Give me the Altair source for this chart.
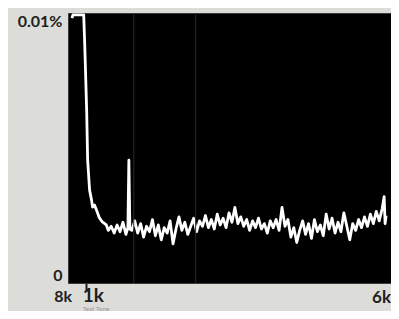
import altair as alt
import pandas as pd

title_text = "Distortion"

# sweep position (0..329 across the display) and distortion (units of 0.001 %)
sweep = [4, 5, 16, 17, 19, 20, 22, 24, 25, 27, 29, 32, 35, 39,
         41, 44, 47, 50, 53, 56, 59, 61, 62, 63, 65, 68, 71, 74, 77, 80,
         83, 86, 89, 92, 95, 98, 101, 104, 107, 110, 113, 116, 119, 122,
         125, 128, 131, 134, 137, 140, 143, 146, 149, 152, 155, 158, 161,
         164, 167, 170, 173, 176, 179, 182, 185, 188, 191, 194, 197, 200,
         203, 206, 209, 212, 215, 218, 221, 224, 227, 230, 233, 236, 239,
         242, 245, 248, 251, 254, 257, 260, 263, 266, 269, 272, 275, 278,
         281, 284, 287, 290, 293, 296, 299, 302, 305, 308, 311, 314, 317,
         320, 322, 323, 324]
dist = [9.81, 9.93, 9.93, 8.89, 6.41, 4.56, 3.44, 3.07, 2.81, 2.89, 2.70, 2.41, 2.26, 2.15,
        1.95, 2.10, 1.85, 2.15, 1.90, 2.25, 1.80, 2.05, 4.55, 2.00, 1.95, 2.30, 1.85, 2.20, 1.70, 2.10,
        1.90, 2.35, 1.75, 2.15, 1.60, 2.05, 1.85, 2.30, 1.45, 2.00, 2.45, 1.95, 2.25, 1.80,
        2.10, 2.40, 1.90, 2.30, 2.10, 2.50, 2.05, 2.35, 2.00, 2.55, 2.15, 2.40, 2.05,
        2.60, 2.25, 2.80, 2.20, 2.45, 2.10, 2.35, 1.95, 2.30, 2.05, 2.40, 2.00, 2.20,
        1.85, 2.30, 2.05, 2.35, 1.95, 2.80, 2.10, 2.35, 1.70, 2.05, 1.50, 1.95, 2.30,
        1.80, 2.20, 1.65, 2.35, 1.90, 2.15, 1.75, 2.55, 2.00, 2.40, 1.85, 2.25, 1.90,
        2.60, 2.10, 1.60, 2.20, 1.95, 2.35, 2.05, 2.45, 2.10, 2.55, 2.20, 2.65, 2.30,
        2.75, 3.20, 2.20, 2.50]

y_ticks = [0, 10]
y_tick_labels = ["0", "0.01%"]
x_domain_end = 329
x_tick_values = [0, 18, 329]
x_tick_labels = ["8k", "1k", "6k"]
tone_label = "Test Tone"
grid_x = [67, 130]
grid_kind = ["gray", "green"]

FONT = "Lato"
INK = "#1e1e1e"

line_df = pd.DataFrame({"sweep": sweep, "dist": dist})
lab_df = pd.DataFrame({"pos": x_tick_values, "lab": x_tick_labels, "zero": [0] * len(x_tick_values)})
tone_df = pd.DataFrame({"pos": [x_tick_values[1]], "lab": [tone_label], "zero": [0]})
grid_df = pd.DataFrame({"pos": grid_x, "kind": grid_kind, "zero": [0, 0]})

xscale = alt.Scale(domain=[0, x_domain_end], nice=False, zero=False)
yscale = alt.Scale(domain=[0, 10], nice=False)

label_expr = f"datum.value == {y_ticks[1]} ? '{y_tick_labels[1]}' : '{y_tick_labels[0]}'"

xaxis = alt.Axis(values=[x_tick_values[1]], labels=False, tickSize=8, tickWidth=2,
                 tickColor=INK, domain=False, grid=False, title=None)
yaxis = alt.Axis(values=y_ticks, labelExpr=label_expr, labelFlush=True, ticks=False,
                 domain=False, grid=False, labelFont=FONT, labelFontWeight="bold",
                 labelFontSize=16, labelColor=INK, labelPadding=6, title=None)

line = alt.Chart(line_df).mark_line(color="white", strokeWidth=2.8, strokeJoin="round").encode(
    x=alt.X("sweep:Q", scale=xscale, axis=xaxis),
    y=alt.Y("dist:Q", scale=yscale, axis=yaxis),
)

grid = alt.Chart(grid_df).mark_rule(strokeWidth=1).encode(
    x=alt.X("pos:Q", scale=xscale, axis=xaxis),
    color=alt.Color("kind:N", scale=alt.Scale(domain=grid_kind, range=["#2a2a2a", "#163522"]), legend=None),
)

def xlabel(lab, align, dx, dy, size):
    return alt.Chart(lab_df).transform_filter(alt.datum.lab == lab).mark_text(
        align=align, baseline="alphabetic", dx=dx, dy=dy, font=FONT, fontWeight="bold",
        fontSize=size, color=INK,
    ).encode(
        x=alt.X("pos:Q", scale=xscale, axis=xaxis),
        y=alt.Y("zero:Q", scale=yscale, axis=yaxis),
        text="lab:N",
    )

lab8 = xlabel(x_tick_labels[0], "right", 4, 19, 16)
lab1 = xlabel(x_tick_labels[1], "left", -3, 19, 19)
lab6 = xlabel(x_tick_labels[2], "right", 0, 20, 17)

tone = alt.Chart(tone_df).mark_text(
    align="left", baseline="alphabetic", dx=-3, dy=28, font=FONT, fontSize=6.5, color="#9a9a9a"
).encode(
    x=alt.X("pos:Q", scale=xscale, axis=xaxis),
    y=alt.Y("zero:Q", scale=yscale, axis=yaxis),
    text="lab:N",
)

chart = alt.layer(line, grid, lab8, lab1, lab6, tone).properties(
    width=323,
    height=270,
    autosize=alt.AutoSizeParams(type="none"),
    padding={"left": 60, "top": 5, "right": 0, "bottom": 28},
    background="#dcdcd8",
    title=alt.TitleParams(text=title_text, anchor="start", dx=-16, offset=4, fontSize=24,
                          font=FONT, fontWeight="bold", color=INK),
).configure_view(fill="black", stroke="#3a3a3a", strokeWidth=1)

chart.save("out.html", embed_options={"renderer": "svg", "actions": False})
